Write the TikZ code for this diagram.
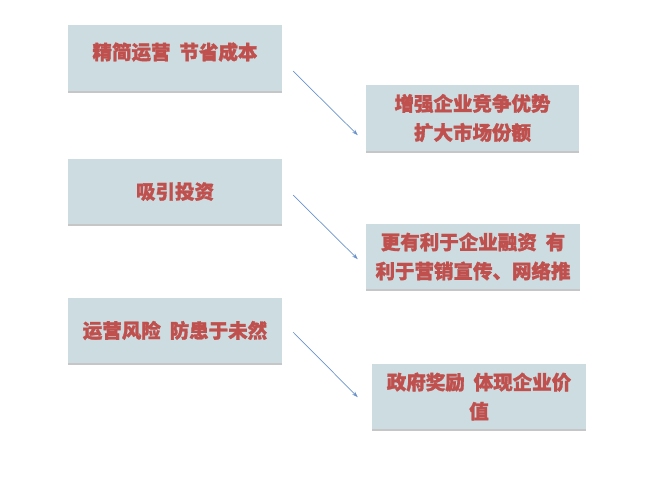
\documentclass[tikz,border=0pt]{standalone}
\usepackage{fontspec}
\newfontfamily\cjk{Noto Sans CJK SC}[BoldFeatures={FakeBold=1.5}]
\usetikzlibrary{shadows,arrows.meta,calc}
\definecolor{boxfill}{HTML}{CCDCE0}
\definecolor{txtred}{HTML}{C0504D}
\definecolor{arrblue}{HTML}{6A93CC}
\tikzset{
  cardfont/.style={font=\cjk\bfseries\fontsize{19.5}{29}\selectfont},
  card/.style={fill=boxfill, draw=none, minimum width=214pt, minimum height=65pt,
    inner sep=0pt, align=center, text=txtred, cardfont,
    drop shadow={shadow xshift=0pt, shadow yshift=-2pt, opacity=0.45, fill=gray}},
  link/.style={draw=arrblue, line width=0.7pt, -{Stealth[length=6pt,width=4pt]}}
}
\begin{document}
\begin{tikzpicture}[x=1pt,y=1pt]
\useasboundingbox (0,0) rectangle (671,485);
\node[card, minimum height=66pt, label={[text=txtred, cardfont, yshift=6pt]center:精简运营\ \ 节省成本}] (b1) at (175,427) {};
\node[card, minimum width=213pt, minimum height=66pt] (b2) at (472.5,367) {增强企业竞争优势\\扩大市场份额};
\node[card] (b3) at (175,293.5) {吸引投资};
\node[card] (b4) at (473,228.5) {更有利于企业融资\ \ 有\\利于营销宣传、网络推};
\node[card] (b5) at (175,154.5) {运营风险\ \ 防患于未然};
\node[card] (b6) at (479,88.5) {政府奖励\ \ 体现企业价\\值};
\coordinate (s1) at ($(b1.south east)+(11,20)$);
\coordinate (e1) at ($(b2.south west)+(-8,16)$);
\coordinate (s2) at ($(b3.south east)+(11,29)$);
\coordinate (e2) at ($(b4.south west)+(-8,30)$);
\coordinate (s3) at ($(b5.south east)+(11,31)$);
\coordinate (e3) at ($(b6.south west)+(-14,32)$);
\draw[link] (s1) -- (e1);
\draw[link] (s2) -- (e2);
\draw[link] (s3) -- (e3);
\end{tikzpicture}
\end{document}
